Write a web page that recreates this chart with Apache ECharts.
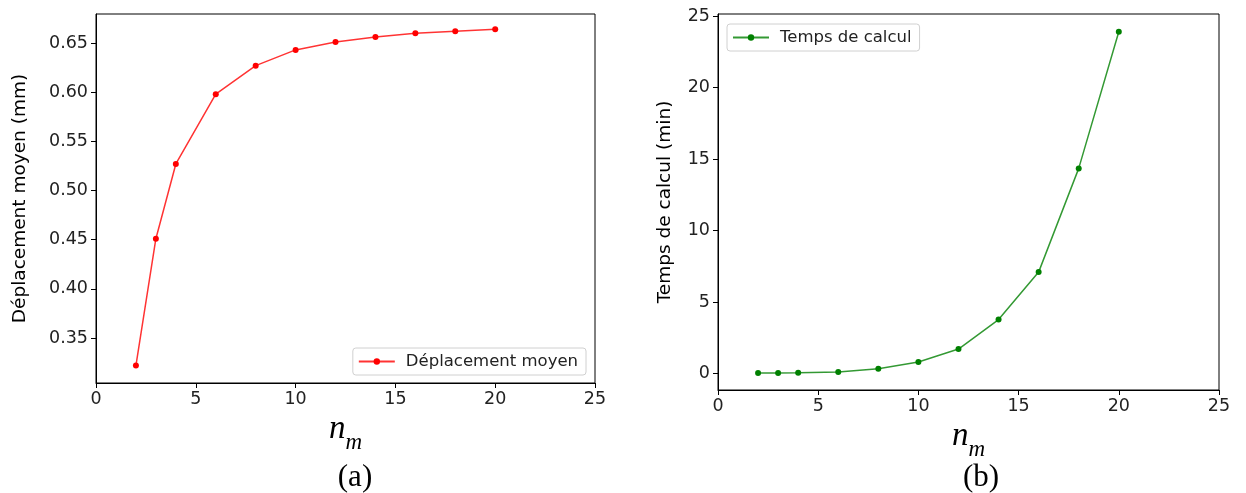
<!DOCTYPE html>
<html><head><meta charset="utf-8">
<script src="https://cdn.jsdelivr.net/npm/echarts@6/dist/echarts.min.js"></script>
<style>html,body{margin:0;padding:0;background:#fff}#c{width:1246px;height:493px}</style>
</head><body><div id="c"></div>
<script>
const nm = [2, 3, 4, 6, 8, 10, 12, 14, 16, 18, 20];
const deplacement = [0.322, 0.451, 0.527, 0.598, 0.627, 0.643, 0.651, 0.656, 0.660, 0.662, 0.664];
const temps = [0.05, 0.05, 0.07, 0.12, 0.34, 0.82, 1.72, 3.78, 7.1, 14.35, 23.9];
const yTicksA = [0.35, 0.40, 0.45, 0.50, 0.55, 0.60, 0.65];
const yTicksB = [0, 5, 10, 15, 20, 25];
const xTicks = [0, 5, 10, 15, 20, 25];

const FONT = 'DejaVu Sans';
const axisCommon = {
  axisLine: {show: true, onZero: false, lineStyle: {color: '#000', width: 1}},
  axisTick: {show: true, inside: false, length: 5, lineStyle: {color: '#000'}},
  splitLine: {show: false},
  axisLabel: {color: '#222', fontSize: 17.5, fontFamily: FONT}
};
function xAxis(idx) {
  return Object.assign({}, axisCommon, {
    type: 'value', gridIndex: idx, min: 0, max: 25, interval: 5,
    axisTick: Object.assign({}, axisCommon.axisTick, {customValues: xTicks}),
    axisLabel: Object.assign({}, axisCommon.axisLabel, {customValues: xTicks, margin: 7}),
    name: '{n|n}{m|m}', nameLocation: 'middle', nameGap: 28,
    nameTextStyle: {rich: {
      n: {fontFamily: 'Liberation Serif', fontStyle: 'italic', fontSize: 33, color: '#000', verticalAlign: 'bottom', lineHeight: 32},
      m: {fontFamily: 'Liberation Serif', fontStyle: 'italic', fontSize: 23, color: '#000', verticalAlign: 'bottom', lineHeight: 24, padding: [0, 0, -9, 0]}
    }}
  });
}
const chart = echarts.init(document.getElementById('c'), null, {renderer: 'canvas'});
chart.setOption({
  animation: false,
  backgroundColor: '#fff',
  title: [
    {text: '(a)', left: 350, top: 457, textAlign: 'center', textStyle: {fontFamily: 'Liberation Serif', fontSize: 31, fontWeight: 'normal', color: '#000'}},
    {text: '(b)', left: 976, top: 457, textAlign: 'center', textStyle: {fontFamily: 'Liberation Serif', fontSize: 31, fontWeight: 'normal', color: '#000'}}
  ],
  grid: [
    {left: 96, right: 651, top: 14, bottom: 110, show: true, borderColor: '#000', borderWidth: 1, backgroundColor: 'transparent'},
    {left: 718, right: 27, top: 14, bottom: 103, show: true, borderColor: '#000', borderWidth: 1, backgroundColor: 'transparent'}
  ],
  xAxis: [xAxis(0), xAxis(1)],
  yAxis: [
    Object.assign({}, axisCommon, {
      type: 'value', gridIndex: 0, min: 0.3043, max: 0.6795,
      axisTick: Object.assign({}, axisCommon.axisTick, {customValues: yTicksA}),
      axisLabel: Object.assign({}, axisCommon.axisLabel, {customValues: yTicksA, margin: 8, formatter: v => v.toFixed(2)}),
      name: 'Déplacement moyen (mm)', nameLocation: 'middle', nameGap: 66,
      nameTextStyle: {fontFamily: FONT, fontSize: 18.5, color: '#000'}
    }),
    Object.assign({}, axisCommon, {
      type: 'value', gridIndex: 1, min: -1.14, max: 25.14,
      axisTick: Object.assign({}, axisCommon.axisTick, {customValues: yTicksB}),
      axisLabel: Object.assign({}, axisCommon.axisLabel, {customValues: yTicksB, margin: 8}),
      name: 'Temps de calcul (min)', nameLocation: 'middle', nameGap: 43,
      nameTextStyle: {fontFamily: FONT, fontSize: 18.5, color: '#000'}
    })
  ],
  legend: [
    {data: ['Déplacement moyen'], right: 660, bottom: 118, orient: 'vertical',
     backgroundColor: '#fff', borderColor: '#d0d0d0', borderWidth: 1, borderRadius: 3,
     padding: [5, 8, 5, 5], itemWidth: 36, itemHeight: 8, itemGap: 10,
     textStyle: {fontFamily: FONT, fontSize: 16.5, color: '#222', padding: [0, 0, 0, 6]}},
    {data: ['Temps de calcul'], left: 727, top: 24, orient: 'vertical',
     backgroundColor: '#fff', borderColor: '#d0d0d0', borderWidth: 1, borderRadius: 3,
     padding: [5, 8, 5, 5], itemWidth: 36, itemHeight: 8, itemGap: 10,
     textStyle: {fontFamily: FONT, fontSize: 16.5, color: '#222', padding: [0, 0, 0, 6]}}
  ],
  series: [
    {name: 'Déplacement moyen', type: 'line', xAxisIndex: 0, yAxisIndex: 0,
     data: nm.map((x, i) => [x, deplacement[i]]),
     symbol: 'circle', symbolSize: 6, lineStyle: {color: 'rgba(255,0,0,0.8)', width: 1.5},
     itemStyle: {color: '#ff0000'}},
    {name: 'Temps de calcul', type: 'line', xAxisIndex: 1, yAxisIndex: 1,
     data: nm.map((x, i) => [x, temps[i]]),
     symbol: 'circle', symbolSize: 6, lineStyle: {color: 'rgba(0,128,0,0.8)', width: 1.5},
     itemStyle: {color: '#008000'}}
  ]
});
</script></body></html>
